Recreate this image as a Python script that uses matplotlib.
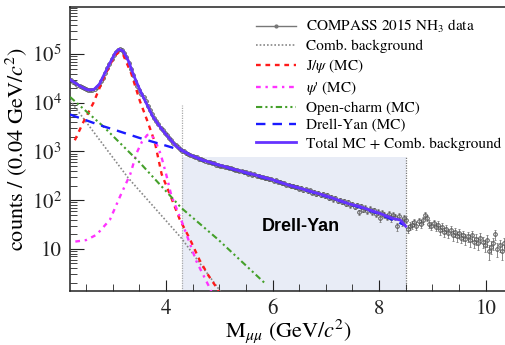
import numpy as np
import matplotlib
matplotlib.use("Agg")
import matplotlib.pyplot as plt
from matplotlib.lines import Line2D
from matplotlib.ticker import FixedLocator, FuncFormatter, LogLocator, NullFormatter, MultipleLocator

plt.rcParams['font.family'] = ['STIXGeneral', 'DejaVu Serif']
plt.rcParams['mathtext.fontset'] = 'stix'

# ---- measured dimuon mass spectrum: 0.04 GeV bins starting at 2.20 GeV ----
bin_width = 0.04
mass_lo = 2.20
data_counts = [
    # 2.20 - 4.32
    29000, 27000, 25000, 23500, 22000, 20800, 19800, 19000, 18400, 18200,
    18500, 19200, 20800, 23500, 27500, 33000, 41000, 52000, 64000, 79000,
    95000, 110000, 124000, 128000, 122000, 106000, 86000, 66000, 49000, 36500,
    28000, 22500, 18500, 15500, 13000, 10800, 8600, 7000, 5800, 4900,
    4200, 3600, 3100, 2750, 2400, 2150, 1920, 1700, 1520, 1360,
    1230, 1120, 1040,
    # 4.32 - 8.52
    1000, 925, 900, 830, 815, 770, 760, 700, 695, 655,
    650, 610, 612, 580, 575, 540, 540, 505, 510, 480,
    485, 455, 455, 430, 420, 420, 395, 400, 370, 378,
    352, 360, 335, 338, 315, 320, 298, 302, 282, 288,
    268, 272, 252, 255, 236, 240, 220, 222, 206, 208,
    193, 198, 182, 190, 172, 178, 160, 168, 152, 158,
    143, 150, 136, 140, 128, 134, 120, 126, 112, 118,
    104, 109, 97, 103, 91, 95, 84, 90, 79, 84,
    74, 79, 56, 75, 64, 70, 60, 66, 57, 62,
    53, 58, 42, 55, 50, 46, 53, 42, 49, 45,
    29, 47, 36, 44, 40, 26, 30,
    # 8.52 - 10.40
    31, 35, 30, 37, 33, 39, 50, 44, 33, 30,
    34, 28, 31, 24, 28, 22, 26, 21, 24, 19,
    22, 18, 21, 17, 19, 16, 18, 15, 19, 14,
    16, 13, 17, 14, 12, 15, 9, 11, 13, 20,
    10, 12, 9, 13, 11, 14, 12,
]

# ---- MC templates (counts per bin) ----
comb_mass = [2.20, 2.76, 3.29, 4.29, 4.98, 5.05]
comb_vals = [11200, 1700, 288, 16.6, 1.55, 1.2]

jpsi_mass = [2.29, 2.45, 2.64, 2.82, 2.95, 3.05, 3.12, 3.20, 3.35, 3.51,
             3.64, 3.79, 3.92, 4.10, 4.26, 4.45, 4.63, 4.80, 4.94, 5.00]
jpsi_vals = [1700, 4000, 10000, 30200, 60300, 95500, 110000, 95500, 39800, 11000,
             4570, 1580, 340, 112, 40, 15.8, 5.9, 2.8, 1.66, 1.26]

psip_mass = [2.30, 2.50, 2.70, 2.95, 3.14, 3.33, 3.45, 3.55, 3.65, 3.72,
             3.80, 3.90, 4.00, 4.10, 4.30, 4.57, 4.82, 4.90]
psip_vals = [14.1, 15.1, 19.5, 39.8, 120, 339, 933, 1585, 2188, 2239,
             1660, 891, 355, 126, 35.5, 5.6, 1.58, 1.0]

oc_mass = [2.20, 2.82, 3.51, 4.29, 4.98, 5.86]
oc_vals = [13200, 3310, 589, 69, 15.5, 1.95]

dy_mass = [2.20, 2.76, 3.08, 3.50, 4.00, 4.30, 4.70, 5.33, 6.00, 7.00, 8.00, 8.50]
dy_vals = [5750, 3470, 2690, 1905, 1318, 1047, 646, 407, 257, 120, 52.5, 30]

total_mass = [2.20, 2.30, 2.40, 2.50, 2.56, 2.65, 2.75, 2.85, 2.95, 3.05,
              3.12, 3.20, 3.30, 3.40, 3.51, 3.60, 3.66, 3.75, 3.89, 4.00,
              4.10, 4.20, 4.30, 4.45, 4.70, 5.00, 5.33, 5.63, 6.00, 6.30,
              6.50, 7.00, 7.45, 7.60, 8.00, 8.26, 8.40, 8.50]
total_vals = [30000, 25500, 21500, 19000, 18300, 18800, 24000, 40000, 66000, 107000,
              126000, 115000, 71000, 35500, 18500, 11500, 8500, 5300, 3200, 2250,
              1680, 1270, 1050, 850, 660, 525, 415, 340, 263, 204,
              178, 123, 83, 76, 54, 42, 39, 29]

# Drell-Yan mass window
dy_window = (4.3, 8.5)
dy_window_top = 760
cut_line_top = 9000

legend_labels = [
    "COMPASS 2015 NH$_3$ data",
    "Comb. background",
    r"J/$\psi$ (MC)",
    r"$\psi$' (MC)",
    "Open-charm (MC)",
    "Drell-Yan (MC)",
    "Total MC + Comb. background",
]

# ---- figure ----
fig = plt.figure(figsize=(5.05, 3.45), dpi=100)
ax = fig.add_axes([70 / 505, 54 / 345, 436 / 505, 284 / 345])

ymin, ymax = 1.36, 9.3e5
ax.set_xlim(2.2, 10.38)
ax.set_ylim(ymin, ymax)
ax.set_yscale('log')

# shaded Drell-Yan window and cut lines
ax.fill_between(list(dy_window), ymin, dy_window_top, color='#e8ecf6', zorder=0, lw=0)
ax.plot([dy_window[0]] * 2, [ymin, cut_line_top], color='#aaaaaa', ls=(0, (1, 1)), lw=0.9, zorder=1)
ax.plot([dy_window[1]] * 2, [ymin, dy_window_top], color='#777777', ls=(0, (1, 1)), lw=0.9, zorder=1)

counts = np.array(data_counts, dtype=float)
centers = mass_lo + bin_width * (np.arange(len(counts)) + 0.5)
ax.errorbar(centers, counts, yerr=np.sqrt(counts), fmt='o', ms=2.6, mfc='none',
            mec='#555555', mew=0.7, ecolor='#888888', elinewidth=0.7, capsize=1,
            capthick=0.6, zorder=2)

ax.plot(comb_mass, comb_vals, color='#888888', ls=(0, (1, 1.2)), lw=1.2, zorder=3)
ax.plot(jpsi_mass, jpsi_vals, color='#ff1a1a', ls=(0, (2, 2)), lw=1.7, zorder=3)
ax.plot(psip_mass, psip_vals, color='#ff33ff', ls=(0, (2, 2, 1, 2)), lw=1.7, zorder=3)
ax.plot(oc_mass, oc_vals, color='#44a02a', ls=(0, (3, 1.5, 1, 1.5, 1, 1.5)), lw=1.5, zorder=3)
ax.plot(dy_mass, dy_vals, color='#1a1aff', ls=(0, (4, 3)), lw=1.7, zorder=3)
ax.plot(total_mass, total_vals, color='#6633ff', ls='-', lw=2.0, zorder=4)

ax.text(5.8, 29, "Drell-Yan", fontsize=13, fontweight='bold',
        family=['Liberation Sans', 'DejaVu Sans'], ha='left', va='center', zorder=5)

# ---- axes styling ----
ax.xaxis.set_major_locator(FixedLocator([4, 6, 8, 10]))
ax.xaxis.set_minor_locator(MultipleLocator(0.5))
ax.yaxis.set_major_locator(LogLocator(base=10, numticks=10))
ax.yaxis.set_minor_locator(LogLocator(base=10, subs=np.arange(2, 10), numticks=20))
ax.yaxis.set_minor_formatter(NullFormatter())


def decade_label(v, pos):
    k = int(round(np.log10(v)))
    return "10" if k == 1 else r"$10^{%d}$" % k


ax.yaxis.set_major_formatter(FuncFormatter(decade_label))
ax.tick_params(which='both', direction='in', top=False, right=False, labelsize=15, colors='#222222')
ax.tick_params(axis='y', which='major', length=10, width=0.8, pad=6)
ax.tick_params(axis='y', which='minor', length=5, width=0.6)
ax.tick_params(axis='x', which='major', length=8, width=0.8, pad=6)
ax.tick_params(axis='x', which='minor', length=5, width=0.6)
for side in ('left', 'bottom', 'top'):
    ax.spines[side].set_linewidth(1.1)
    ax.spines[side].set_color('#222222')
ax.spines['right'].set_visible(False)

ax.set_xlabel(r"M$_{\mu\mu}$ (GeV/$c^2$)", fontsize=16, labelpad=-1)
ax.set_ylabel(r"counts / (0.04 GeV/$c^2$)", fontsize=16, labelpad=2)

handles = [
    Line2D([], [], color='#777777', lw=1.0, marker='o', ms=2),
    Line2D([], [], color='#888888', ls=(0, (1, 1.2)), lw=1.2),
    Line2D([], [], color='#ff1a1a', ls=(0, (2, 2)), lw=1.7),
    Line2D([], [], color='#ff33ff', ls=(0, (2, 2, 1, 2)), lw=1.7),
    Line2D([], [], color='#44a02a', ls=(0, (3, 1.5, 1, 1.5, 1, 1.5)), lw=1.5),
    Line2D([], [], color='#1a1aff', ls=(0, (4, 3)), lw=1.7),
    Line2D([], [], color='#6633ff', lw=2.0),
]
ax.legend(handles, legend_labels, loc='upper left', bbox_to_anchor=(256 / 505, 1 - 18 / 345),
          bbox_transform=fig.transFigure, frameon=False, fontsize=11, handlelength=2.6,
          handletextpad=0.7, labelspacing=0.27, borderpad=0, borderaxespad=0)

fig.savefig("out.png", dpi=100)
